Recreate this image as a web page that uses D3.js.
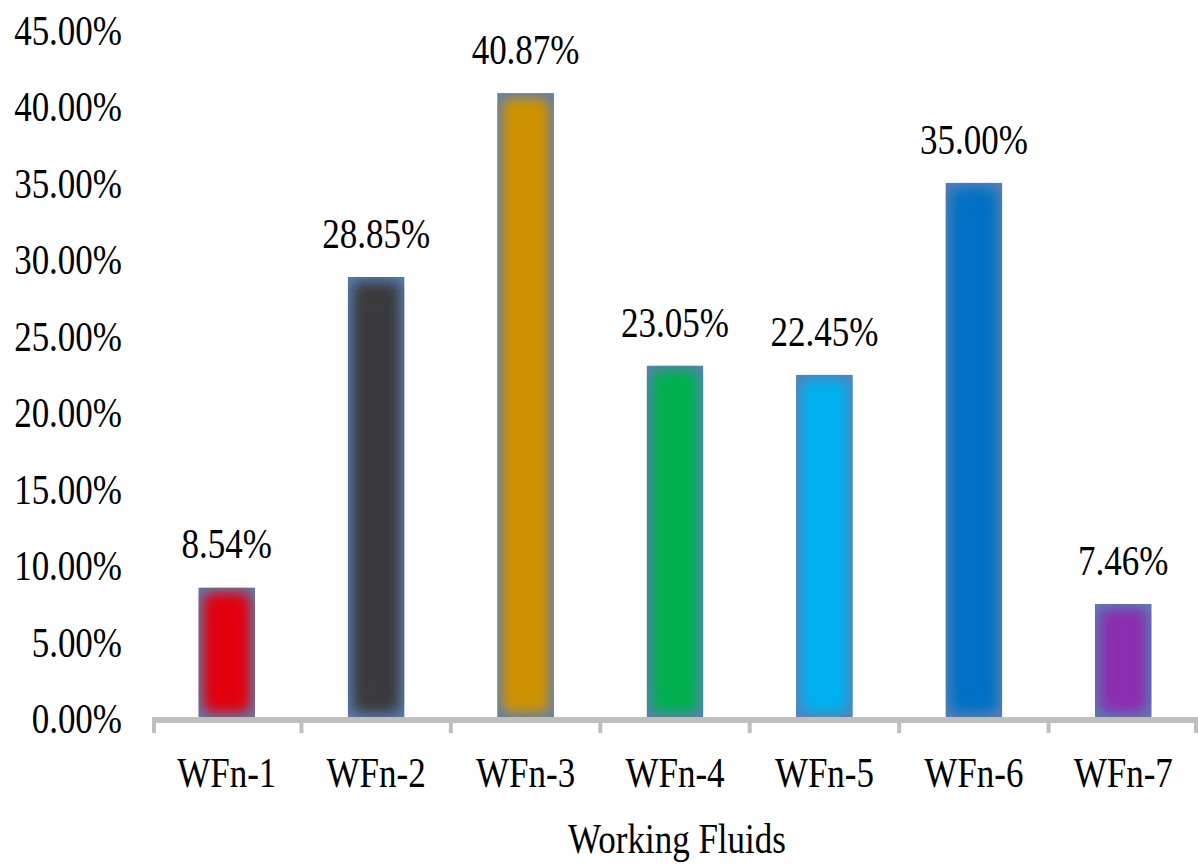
<!DOCTYPE html>
<html>
<head>
<meta charset="utf-8">
<script src="https://cdn.jsdelivr.net/npm/d3@7"></script>
<style>
  html, body { margin: 0; padding: 0; background: #ffffff; }
  svg { display: block; }
  text { font-family: "Liberation Serif", "Times New Roman", serif; fill: #000; }
</style>
</head>
<body>
<svg id="chart" width="1198" height="865"></svg>
<script>
// Data
const categories = ["WFn-1", "WFn-2", "WFn-3", "WFn-4", "WFn-5", "WFn-6", "WFn-7"];
const values = [8.54, 28.85, 40.87, 23.05, 22.45, 35.00, 7.46];
const yTicks = [0, 5, 10, 15, 20, 25, 30, 35, 40, 45];
const barColors = ["#e2000f", "#3b3b3d", "#cf9200", "#00b050", "#00b0f0", "#0071c4", "#8a2fb0"];
const xTitle = "Working Fluids";

const svg = d3.select("#chart");
const stretch = 1.21;          // glyphs are drawn slightly taller than wide
const fontSize = 35;

const axisY0 = 718;
const x = d3.scaleBand()
  .domain(categories)
  .range([152, 1198])
  .paddingInner(0.62)
  .paddingOuter(0.31);

const y = d3.scaleLinear()
  .domain([0, 45])
  .range([axisY0, axisY0 - 45 * 15.29]);

const defs = svg.append("defs");
defs.append("filter")
  .attr("id", "soft")
  .attr("x", "-50%").attr("y", "-50%").attr("width", "200%").attr("height", "200%")
  .append("feGaussianBlur").attr("stdDeviation", 7);

function label(g, px, py, str, anchor) {
  g.append("text")
    .attr("transform", `translate(${px},${py}) scale(1,${stretch})`)
    .attr("text-anchor", anchor)
    .attr("font-size", fontSize)
    .text(str);
}

// Y axis labels (no axis line, no gridlines)
const yg = svg.append("g");
yTicks.forEach(t => label(yg, 122, y(t) + 15, d3.format(".2f")(t) + "%", "end"));

// Bars with soft glow toward the edges
const bars = svg.append("g");
categories.forEach((c, i) => {
  const bx = x(c), bw = x.bandwidth();
  const by = y(values[i]), bh = y(0) - y(values[i]);
  const clipId = "clip" + i;
  defs.append("clipPath").attr("id", clipId)
    .append("rect").attr("x", bx).attr("y", by).attr("width", bw).attr("height", bh);
  const g = bars.append("g").attr("clip-path", `url(#${clipId})`);
  g.append("rect")
    .attr("x", bx).attr("y", by).attr("width", bw).attr("height", bh)
    .attr("fill", "#5a7fb4");
  const inset = 5;
  g.append("rect")
    .attr("x", bx + inset).attr("y", by + inset)
    .attr("width", bw - 2 * inset).attr("height", Math.max(0, bh - 2 * inset))
    .attr("fill", barColors[i])
    .attr("filter", "url(#soft)");
  g.append("rect")
    .attr("x", bx + 14).attr("y", by + 16)
    .attr("width", bw - 28).attr("height", Math.max(0, bh - 32))
    .attr("fill", barColors[i])
    .attr("filter", "url(#soft)");
});

// X axis line and category separators
const axisG = svg.append("g");
axisG.append("line")
  .attr("x1", 152).attr("x2", 1198)
  .attr("y1", axisY0 + 2).attr("y2", axisY0 + 2)
  .attr("stroke", "#bfbfbf").attr("stroke-width", 6);
const step = x.step();
d3.range(categories.length + 1).forEach(k => {
  const tx = Math.min(152 + k * step, 1196) + (k === 0 ? 2 : 0);
  axisG.append("line")
    .attr("x1", tx).attr("x2", tx)
    .attr("y1", axisY0).attr("y2", axisY0 + 15)
    .attr("stroke", "#bfbfbf").attr("stroke-width", 4);
});

// Category labels
const xg = svg.append("g");
categories.forEach(c => label(xg, x(c) + x.bandwidth() / 2, 787, c, "middle"));

// Value labels above bars
const vg = svg.append("g");
categories.forEach((c, i) => label(vg, x(c) + x.bandwidth() / 2, y(values[i]) - 29, d3.format(".2f")(values[i]) + "%", "middle"));

// Axis title
label(svg, 677, 853, xTitle, "middle");
</script>
</body>
</html>
